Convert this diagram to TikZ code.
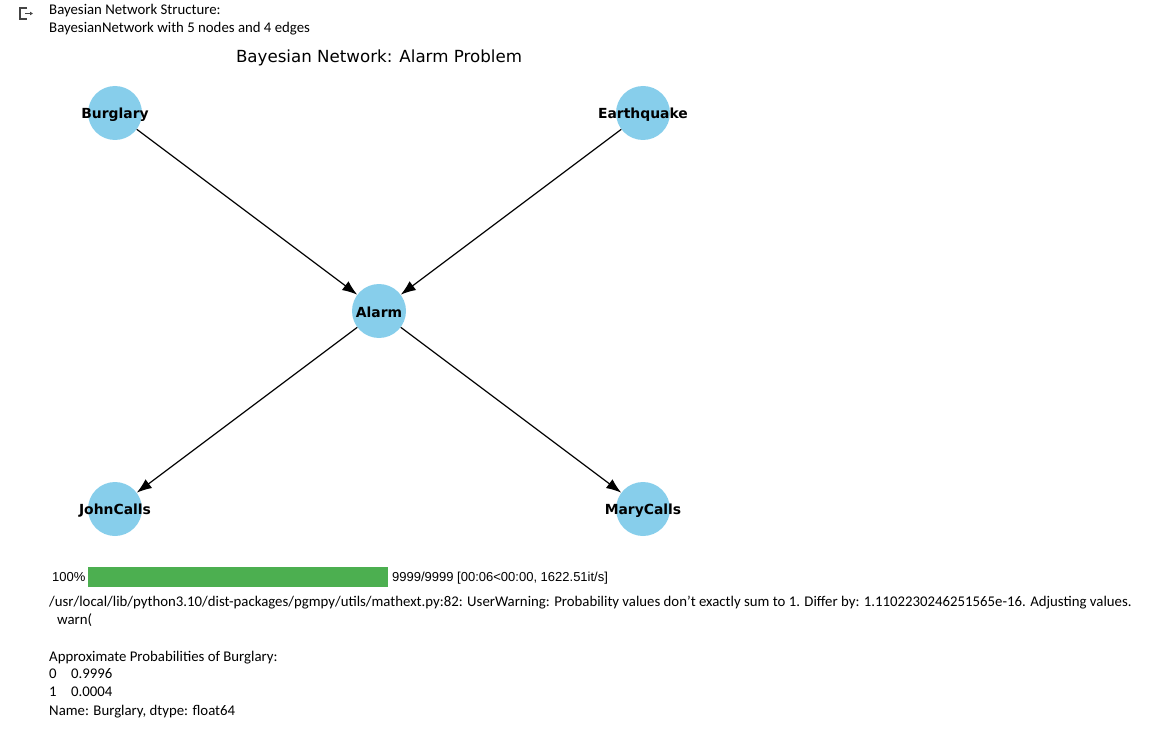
\documentclass[tikz,border=0pt]{standalone}
\usepackage{fontspec}
\setmainfont{Carlito}
\newfontfamily\plotfont{DejaVu Sans}
\newfontfamily\barfont{Liberation Sans}
\usepackage{xcolor}
\usetikzlibrary{arrows.meta,positioning}

\definecolor{nodeblue}{HTML}{87CEEB}
\definecolor{bargreen}{HTML}{4CAF50}
\definecolor{icongray}{HTML}{444444}

\tikzset{
	var/.style={circle,fill=nodeblue,minimum size=54bp,inner sep=0pt,
		label={[inner sep=0pt,yshift=-1.5bp,font=\plotfont\bfseries\fontsize{13.9bp}{16bp}\selectfont]center:#1}},
	edge/.style={->,line width=1.2bp},
	outtext/.style={anchor=base west,inner sep=0pt,
		font=\fontsize{14.8bp}{17bp}\selectfont},
	bartext/.style={anchor=base west,inner sep=0pt,
		font=\barfont\fontsize{13bp}{15bp}\selectfont}
}

\begin{document}
\begin{tikzpicture}[x=1bp,y=-1bp,>={Latex[length=15bp,width=11bp]}]
	\useasboundingbox (0,0) rectangle (1172,735);

	% output icon
	\draw[icongray,line width=1.3bp] (27,8) -- (20,8) -- (20,19) -- (27,19);
	\draw[icongray,line width=1.3bp,-{Latex[length=3bp,width=4bp]}] (25,13.5) -- (33,13.5);

	% printed lines above the plot
	\node[outtext] (struct) at (49,15)   {Bayesian Network Structure:};
	\node[outtext] (summary) at (49,32.5) {BayesianNetwork with 5 nodes and 4 edges};

	% the plot
	\node[anchor=base,inner sep=0pt,font=\plotfont\fontsize{16.67bp}{19bp}\selectfont]
		(title) at (379,63) {Bayesian Network: Alarm Problem};

	\node[var=Burglary]   (Burglary)   at (115,113) {};
	\node[var=Earthquake] (Earthquake) at (643,113) {};
	\node[var=Alarm]      (Alarm)      at (379,311) {};
	\node[var=JohnCalls]  (JohnCalls)  at (115,509) {};
	\node[var=MaryCalls]  (MaryCalls)  at (643,509) {};

	\draw[edge] (Burglary) -- (Alarm);
	\draw[edge] (Earthquake) -- (Alarm);
	\draw[edge] (Alarm) -- (JohnCalls);
	\draw[edge] (Alarm) -- (MaryCalls);

	% progress bar
	\node[bartext] (pct) at (52,581) {100\%};
	\node[fill=bargreen,inner sep=0pt,minimum width=300bp,minimum height=20bp,anchor=west]
		(bar) at (88,577) {};
	\node[bartext] (count) at (392,581) {9999/9999 [00:06<00:00, 1622.51it/s]};

	% printed lines below the plot
	\node[outtext] (warning) at (49,606.5) {/usr/local/lib/python3.10/dist-packages/pgmpy/utils/mathext.py:82: UserWarning: Probability values don't exactly sum to 1. Differ by: 1.1102230246251565e-16. Adjusting values.};
	\node[outtext] (warn) at (57,624) {warn(};
	\node[outtext] (heading) at (49,661.5) {Approximate Probabilities of Burglary:};
	\node[outtext] (zero) at (49,678.5) {0};
	\node[outtext] (pzero) at (71,678.5) {0.9996};
	\node[outtext] (one) at (49,696.5) {1};
	\node[outtext] (pone) at (71,696.5) {0.0004};
	\node[outtext] (name) at (49,715.5) {Name: Burglary, dtype: float64};
\end{tikzpicture}
\end{document}
